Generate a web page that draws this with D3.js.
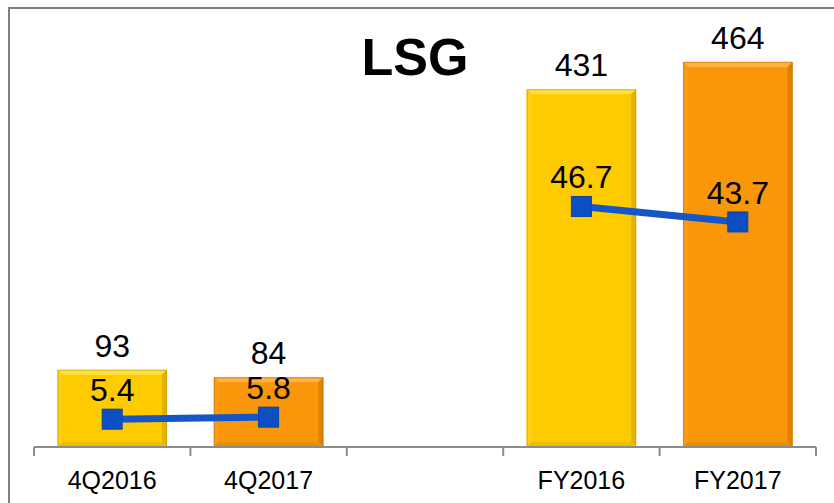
<!DOCTYPE html>
<html>
<head>
<meta charset="utf-8">
<script src="https://cdn.jsdelivr.net/npm/d3@7/dist/d3.min.js"></script>
<style>
  html, body { margin: 0; padding: 0; background: #fff; }
  svg { display: block; }
  text { font-family: "Liberation Sans", Arial, sans-serif; }
</style>
</head>
<body>
<svg id="chart" width="834" height="503"></svg>
<script>
// ---- data ----
const categories = ["4Q2016", "4Q2017", "", "FY2016", "FY2017"];
const revenue = [93, 84, null, 431, 464];
const margin = [5.4, 5.8, null, 46.7, 43.7];
const barYear = ["2016", "2017", null, "2016", "2017"];
const title = "LSG";

// ---- styles ----
const palette = {
  "2016": { base: "#FECB00", top: "#FFDF45", left: "#FECF14", right: "#E2B300", bottom: "#EDBD00", stroke: "#C49C00" },
  "2017": { base: "#FA960A", top: "#FFB243", left: "#FC9C16", right: "#DE8300", bottom: "#E98C00", stroke: "#C27300" }
};

const svg = d3.select("#chart");
const W = 834, H = 503;
const baseY = 447;

// frame
svg.append("path")
  .attr("d", `M9,${H + 5} L9,8 L${W + 5},8`)
  .attr("fill", "none").attr("stroke", "#808080").attr("stroke-width", 2);

const idx = categories.map((d, i) => i);
const x = d3.scaleBand().domain(idx).range([34, 816]).paddingInner(0.3).paddingOuter(0.15);
const y = d3.scaleLinear().domain([0, 500]).range([baseY, 32]);
const y2 = d3.scaleLinear().domain([0, 80]).range([baseY, 35]);

// bars with bevel
const bev = 5;
const bars = svg.append("g");
idx.forEach(i => {
  if (revenue[i] == null) return;
  const c = palette[barYear[i]];
  const x0 = x(i), x1 = x(i) + x.bandwidth();
  const y0 = y(revenue[i]), y1 = y(0);
  const g = bars.append("g");
  g.append("rect").attr("x", x0).attr("y", y0).attr("width", x1 - x0).attr("height", y1 - y0)
    .attr("fill", c.base);
  const poly = (pts, fill) => g.append("polygon").attr("points", pts.map(p => p.join(",")).join(" ")).attr("fill", fill);
  poly([[x0, y0], [x1, y0], [x1 - bev, y0 + bev], [x0 + bev, y0 + bev]], c.top);
  poly([[x0, y0], [x0 + bev, y0 + bev], [x0 + bev, y1 - bev], [x0, y1]], c.left);
  poly([[x1, y0], [x1, y1], [x1 - bev, y1 - bev], [x1 - bev, y0 + bev]], c.right);
  poly([[x0, y1], [x0 + bev, y1 - bev], [x1 - bev, y1 - bev], [x1, y1]], c.bottom);
  g.append("rect").attr("x", x0 + 0.5).attr("y", y0 + 0.5).attr("width", x1 - x0 - 1).attr("height", y1 - y0 - 1)
    .attr("fill", "none").attr("stroke", c.stroke).attr("stroke-width", 1).attr("stroke-opacity", 0.6);
});

// axis line with boundary ticks
const step = x.step();
const axisG = svg.append("g");
axisG.append("line").attr("x1", x.range()[0]).attr("x2", x.range()[1])
  .attr("y1", baseY).attr("y2", baseY).attr("stroke", "#8c8c8c").attr("stroke-width", 2);
d3.range(categories.length + 1).forEach(k => {
  const xx = x.range()[0] + k * step;
  axisG.append("line").attr("x1", xx).attr("x2", xx).attr("y1", baseY).attr("y2", baseY + 9)
    .attr("stroke", "#8c8c8c").attr("stroke-width", 2);
});
const ax = svg.append("g").attr("transform", `translate(0,${baseY})`)
  .call(d3.axisBottom(x).tickSize(0).tickFormat(i => categories[i]));
ax.select(".domain").remove();
ax.selectAll("text").attr("y", 42).attr("dy", 0)
  .attr("font-size", 25).attr("fill", "#000")
  .style("font-family", '"Liberation Sans", Arial, sans-serif');

// bar labels
svg.append("g").selectAll("text").data(idx.filter(i => revenue[i] != null)).join("text")
  .attr("x", i => x(i) + x.bandwidth() / 2)
  .attr("y", i => y(revenue[i]) - 13)
  .attr("text-anchor", "middle").attr("font-size", 32).attr("fill", "#000")
  .text(i => revenue[i]);

// line
const line = d3.line()
  .defined(i => margin[i] != null)
  .x(i => x(i) + x.bandwidth() / 2)
  .y(i => y2(margin[i]));
svg.append("path").datum(idx).attr("d", line)
  .attr("fill", "none").attr("stroke", "#1456C8").attr("stroke-width", 7);

const ms = 20;
svg.append("g").selectAll("rect").data(idx.filter(i => margin[i] != null)).join("rect")
  .attr("x", i => x(i) + x.bandwidth() / 2 - ms / 2)
  .attr("y", i => y2(margin[i]) - ms / 2)
  .attr("width", ms).attr("height", ms)
  .attr("fill", "#0C4FC2").attr("stroke", "#0A44A8").attr("stroke-width", 1);

svg.append("g").selectAll("text").data(idx.filter(i => margin[i] != null)).join("text")
  .attr("x", i => x(i) + x.bandwidth() / 2)
  .attr("y", i => y2(margin[i]) - 18)
  .attr("text-anchor", "middle").attr("font-size", 32).attr("fill", "#000")
  .text(i => margin[i].toFixed(1));

// title
svg.append("text").attr("x", 415).attr("y", 75).attr("text-anchor", "middle")
  .attr("font-size", 52).attr("font-weight", "bold").attr("fill", "#000")
  .text(title);
</script>
</body>
</html>
